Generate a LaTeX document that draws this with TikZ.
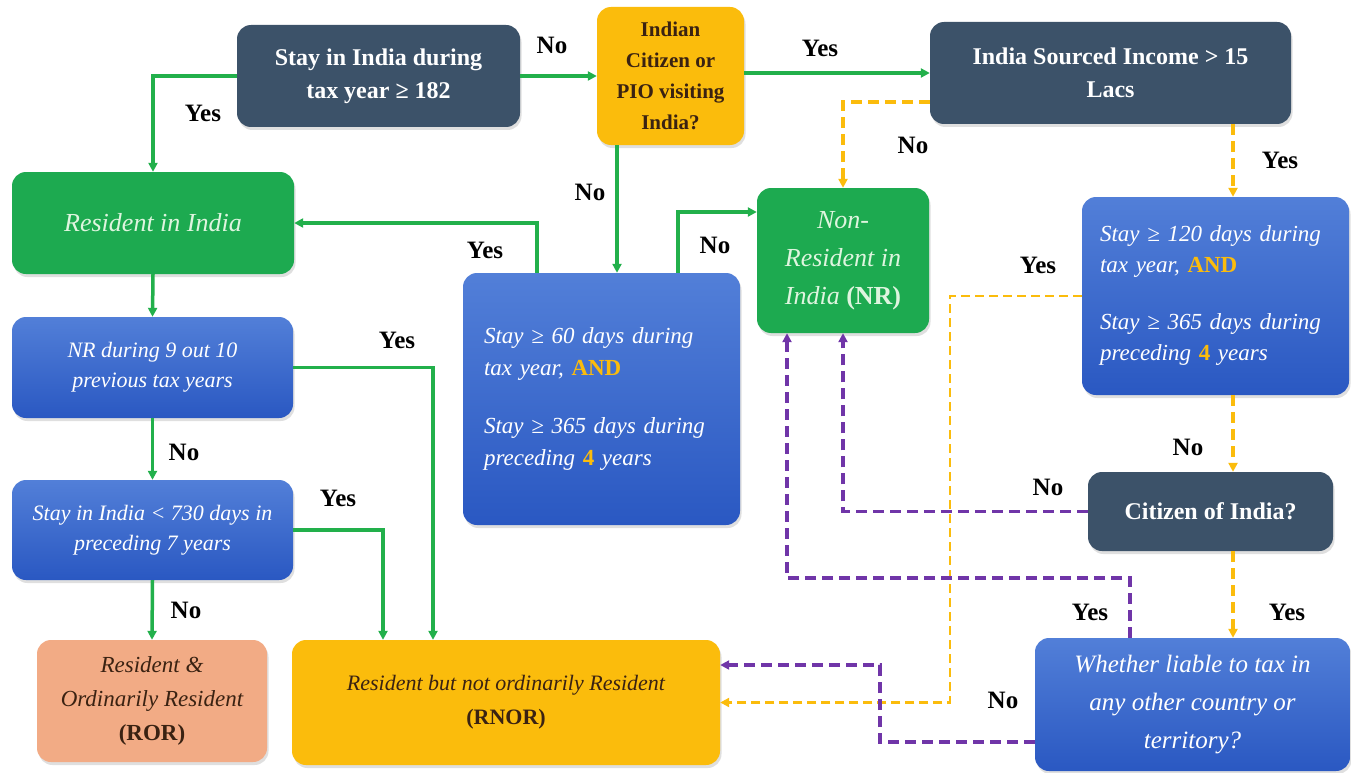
\documentclass[tikz,border=0pt]{standalone}
\usepackage{fontspec}
\setmainfont{Liberation Serif}
\usetikzlibrary{arrows.meta,shadows,calc}
\definecolor{slate}{HTML}{3C5269}
\definecolor{gold}{HTML}{FBBC0C}
\definecolor{grn}{HTML}{1DAA50}
\definecolor{lnGreen}{HTML}{22B04B}
\definecolor{purp}{HTML}{7035A8}
\definecolor{blueT}{HTML}{527FD8}
\definecolor{blueB}{HTML}{2A58C2}
\definecolor{salmon}{HTML}{F2AB85}
\definecolor{lightgrn}{HTML}{DFF5DF}
\definecolor{brownT}{HTML}{3A2212}
\tikzset{
  box/.style={rounded corners=14pt, draw=none, inner sep=0pt, align=center,
    drop shadow={opacity=0.25,shadow xshift=1.5pt,shadow yshift=-3pt}},
  darkbox/.style={box, fill=slate, text=white, font=\bfseries\fontsize{24}{33}\selectfont},
  goldbox/.style={box, fill=gold, text=brownT},
  grnbox/.style={box, fill=grn, text=lightgrn, font=\itshape\fontsize{26}{38}\selectfont},
  bluebox/.style={box, top color=blueT, bottom color=blueB, text=white, font=\itshape\fontsize{22}{30}\selectfont},
  rorbox/.style={box, fill=salmon, text=brownT, font=\itshape\fontsize{23}{34}\selectfont},
  gline/.style={draw=lnGreen, line width=3.5pt, -{Triangle[length=9pt,width=9pt]}},
  yline/.style={draw=gold, line width=3.5pt, dash pattern=on 11pt off 6pt, -{Triangle[length=9pt,width=9pt]}},
  ythin/.style={draw=gold, line width=2.5pt, dash pattern=on 9pt off 5pt, -{Triangle[length=9pt,width=9pt]}},
  pline/.style={draw=purp, line width=3.5pt, dash pattern=on 11pt off 6pt, -{Triangle[length=9pt,width=9pt]}},
  lbl/.style={font=\bfseries\fontsize{25}{28}\selectfont, text=black, inner sep=0pt}
}
\begin{document}
\begin{tikzpicture}[x=1pt,y=-1pt]
\useasboundingbox (0,0) rectangle (1351,773);
\fill[white] (0,0) rectangle (1351,773);
% boxes
\node[darkbox, minimum width=283, minimum height=102] (s182) at (378.5,76) {Stay in India during\\tax year ≥ 182};
\node[goldbox, minimum width=147, minimum height=138, font=\bfseries\fontsize{21}{31}\selectfont] (pio) at (670.5,76) {Indian\\Citizen or\\PIO visiting\\India?};
\node[darkbox, minimum width=361, minimum height=102] (inc) at (1110.5,73) {India Sourced Income > 15\\Lacs};
\node[grnbox, minimum width=282, minimum height=102] (res) at (153,223) {Resident in India};
\node[bluebox, minimum width=277, minimum height=252, text width=235, inner xsep=21, align=left, font=\itshape\fontsize{23}{32}\selectfont] (s60) at (601.5,399)
  {Stay ≥ 60 days during\\tax year, {\upshape\bfseries\color{gold}AND}\\[26pt]Stay ≥ 365 days during\\preceding {\upshape\bfseries\color{gold}4} years};
\node[grnbox, minimum width=172, minimum height=145] (nr) at (843,260.5) {Non-\\Resident in\\India {\upshape\bfseries (NR)}};
\node[bluebox, minimum width=267, minimum height=198, text width=231, inner xsep=18, align=left, font=\itshape\fontsize{23}{31}\selectfont] (s120) at (1215.5,296)
  {Stay ≥ 120 days during\\tax year, {\upshape\bfseries\color{gold}AND}\\[26pt]Stay ≥ 365 days during\\preceding {\upshape\bfseries\color{gold}4} years};
\node[bluebox, minimum width=281, minimum height=101] (nr9) at (152.5,367.5) {NR during 9 out 10\\previous tax years};
\node[bluebox, minimum width=281, minimum height=100] (s730) at (152.5,530) {Stay in India < 730 days in\\preceding 7 years};
\node[rorbox, minimum width=230, minimum height=122] (ror) at (152,701) {Resident \&\\Ordinarily Resident\\{\upshape\bfseries (ROR)}};
\node[goldbox, minimum width=428, minimum height=125, font=\itshape\fontsize{22}{34}\selectfont] (rnor) at (506,702.5) {Resident but not ordinarily Resident\\{\upshape\bfseries (RNOR)}};
\node[darkbox, minimum width=245, minimum height=79] (cit) at (1210.5,511.5) {Citizen of India?};
\node[bluebox, minimum width=315, minimum height=133, font=\itshape\fontsize{25}{38}\selectfont] (liab) at (1192.5,704.5) {Whether liable to tax in\\any other country or\\territory?};
% green connectors
\draw[gline] (s182.west) -| (res.north);
\draw[gline] (s182.east) -- (pio.west);
\draw[gline] (pio.east |- inc.west) -- (inc.west);
\draw[gline] ([xshift=-53.5pt]pio.south) -- ([xshift=-53.5pt]pio.south |- s60.north);
\draw[gline] ([xshift=-64.5pt]s60.north) |- (res.east);
\draw[gline] ([xshift=76.5pt]s60.north) |- ([yshift=48.5pt]nr.west);
\draw[gline] (res.south) -- (nr9.north);
\draw[gline] (nr9.south) -- (s730.north);
\draw[gline] (nr9.east) -| ([xshift=-73pt]rnor.north);
\draw[gline] (s730.east) -| ([xshift=-123pt]rnor.north);
\draw[gline] (s730.south) -- (ror.north);
% yellow dashed
\draw[yline] ([yshift=-29pt]inc.west) -| (nr.north);
\draw[yline] ([xshift=122.5pt]inc.south) -- ([xshift=122.5pt]inc.south |- s120.north);
\draw[ythin] (s120.west) -- ++(-132,0) |- (rnor.east);
\draw[yline] ([xshift=17.5pt]s120.south) -- ([xshift=17.5pt]s120.south |- cit.north);
\draw[yline] ([xshift=22.5pt]cit.south) -- ([xshift=22.5pt]cit.south |- liab.north);
% purple dashed
\draw[pline] (cit.west) -| (nr.south);
\draw[pline] ([xshift=-62.5pt]liab.north) -- ++(0,-60) -| ([xshift=-56pt]nr.south);
\draw[pline] ([yshift=-37.5pt]liab.west) -- ++(-155,0) |- ([yshift=37.5pt]rnor.east);
% labels
\node[lbl] (l1) at (203,113) {Yes};
\node[lbl] (l2) at (552,45) {No};
\node[lbl] (l3) at (820,48) {Yes};
\node[lbl] (l4) at (590,192) {No};
\node[lbl] (l5) at (485,250) {Yes};
\node[lbl] (l6) at (715,245) {No};
\node[lbl] (l7) at (913,145) {No};
\node[lbl] (l8) at (1280,160) {Yes};
\node[lbl] (l9) at (1038,265) {Yes};
\node[lbl] (l10) at (397,340) {Yes};
\node[lbl] (l11) at (184,452) {No};
\node[lbl] (l12) at (338,498) {Yes};
\node[lbl] (l13) at (186,610) {No};
\node[lbl] (l14) at (1188,447) {No};
\node[lbl] (l15) at (1048,487) {No};
\node[lbl] (l16) at (1090,612) {Yes};
\node[lbl] (l17) at (1287,612) {Yes};
\node[lbl] (l18) at (1003,700) {No};
\end{tikzpicture}
\end{document}
